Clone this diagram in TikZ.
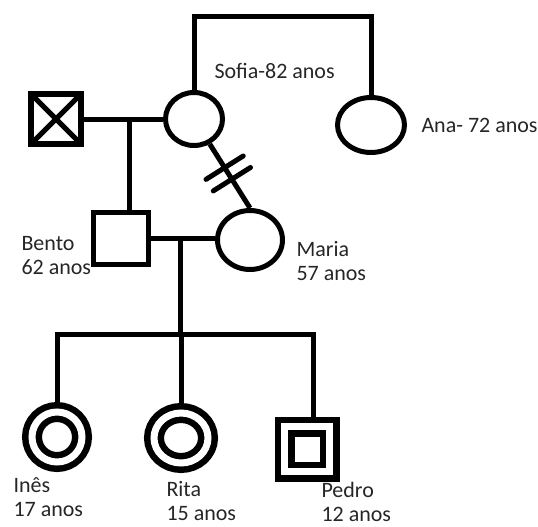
\documentclass[tikz,border=0pt]{standalone}
\usepackage{fontspec}
\setmainfont{Carlito}
\usetikzlibrary{positioning,calc,shapes.geometric}

\begin{document}
\begin{tikzpicture}[x=1pt,y=-1pt,line width=5pt]
\tikzstyle{fem}=[draw,ellipse,inner sep=0pt];
\tikzstyle{male}=[draw,rectangle,inner sep=0pt];
\tikzstyle{twin}=[double,double distance=7pt,line width=6.5pt,outer sep=10pt];
\tikzstyle{lbl}=[anchor=base west,align=left,inner sep=0pt,text=black!85,font=\fontsize{22}{24}\selectfont];

\useasboundingbox (0,0) rectangle (538,527);

\begin{scope}
        % first generation
        \node[male,minimum size=50pt,line width=6.5pt,
              path picture={\draw[line width=5pt] (path picture bounding box.north west) -- (path picture bounding box.south east)
                            (path picture bounding box.south west) -- (path picture bounding box.north east);}] (avo) at (56,119) {};
        \node[fem,minimum width=57pt,minimum height=53pt] (sofia) at (194,119) {};
        \node[fem,minimum width=67pt,minimum height=55pt] (ana) at (371,125) {};

        % second generation
        \node[male,minimum width=55pt,minimum height=52pt] (bento) at (121,238) {};
        \node[fem,minimum width=65pt,minimum height=59pt] (maria) at (250,240) {};

        % third generation
        \node[fem,twin,minimum width=50pt,minimum height=50pt] (ines) at (57,437) {};
        \node[fem,twin,minimum width=54pt,minimum height=50pt] (rita) at (181,438) {};
        \node[male,twin,minimum size=45pt] (pedro) at (307,449) {};

        \coordinate (m1) at (129,119);
        \coordinate (m2) at (180,238);
        \coordinate (sib) at (180,334);
        \coordinate (pedtop) at ($(pedro.north)+(6,0)$);

        \draw (sofia.north) -- ++(0,-73) -| (ana.north);
        \draw (avo) -- (sofia);
        \draw (m1) -- (m1 |- bento.north);
        \draw (bento.east) -- (bento.east -| maria.west);
        \draw (m2) -- (sib);
        \draw (ines.north) -- (ines.north |- sib) -- (pedtop |- sib) -- (pedtop);
        \draw (rita.north) -- (rita.north |- sib);

        \draw (sofia) -- (maria.north) coordinate[pos=0.37] (h1) coordinate[pos=0.55] (h2);
        \foreach \h in {h1,h2}
          \draw[line cap=round] ($(\h)!22pt!90:(maria.north)$) -- ($(\h)!22pt!-90:(maria.north)$);

        \node[lbl] (sofialbl) at (212,78) {Sofia-82 anos};
        \node[lbl] (analbl) at (419,132) {Ana- 72 anos};
        \node[lbl] (bentolbl) at (19,274) {Bento\\62 anos};
        \node[lbl] (marialbl) at (294,280) {Maria\\57 anos};
        \node[lbl] (ineslbl) at (11,516) {Inês\\17 anos};
        \node[lbl] (ritalbl) at (164,520) {Rita\\15 anos};
        \node[lbl] (pedrolbl) at (319,521) {Pedro\\12 anos};
\end{scope}

\end{tikzpicture}
\end{document}
